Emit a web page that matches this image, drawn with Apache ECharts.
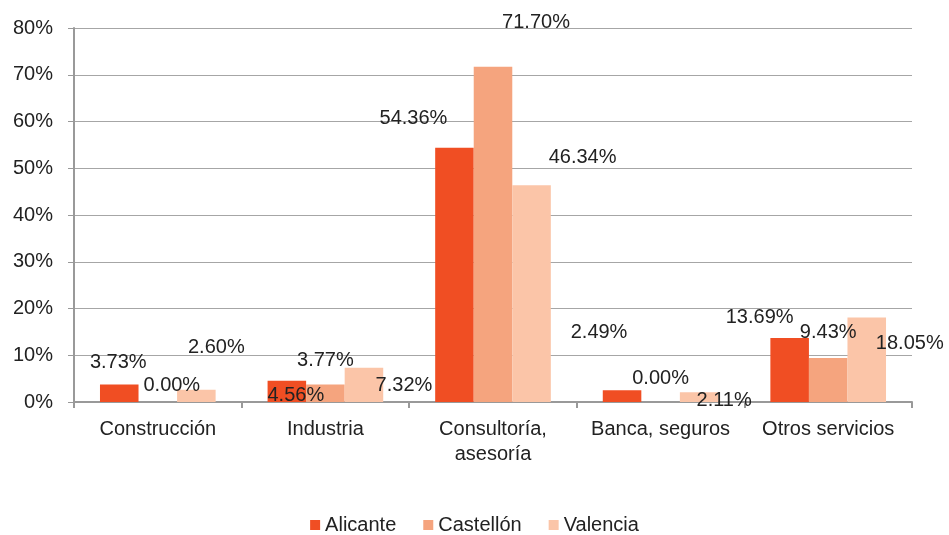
<!DOCTYPE html>
<html>
<head>
<meta charset="utf-8">
<script src="https://cdn.jsdelivr.net/npm/echarts@6/dist/echarts.min.js"></script>
<style>
  html, body { margin: 0; padding: 0; background: #fff; }
  #chart { width: 949px; height: 535px; }
</style>
</head>
<body>
<div id="chart"></div>
<script>
var categories = ['Construcción', 'Industria', 'Consultoría,\nasesoría', 'Banca, seguros', 'Otros servicios'];
var alicante  = [3.73, 4.56, 54.36, 2.49, 13.69];
var castellon = [0.00, 3.77, 71.70, 0.00, 9.43];
var valencia  = [2.60, 7.32, 46.34, 2.11, 18.05];

// label placement (px offsets from bar top centre), as in the original
var offAlicante  = [[-1, -22], [9, 15], [-41, -29], [-23, -58], [-30, -21]];
var offCastellon = [[14, -17], [0, -24], [43, -44], [0, -24], [0, -25]];
var offValencia  = [[20, -42], [40, 18], [51, -28], [25, 8], [43, 26]];

(function(){
    var mycharts = echarts.init(document.getElementById('chart'));
    var font = 'Liberation Sans, Arial, sans-serif';

    function build(vals, offs){
        return vals.map(function(v, i){
            return { value: v, label: { offset: offs[i] } };
        });
    }
    var baseLabel = {
        show: true,
        position: 'top',
        distance: 0,
        verticalAlign: 'middle',
        fontFamily: font,
        fontSize: 20,
        color: '#222',
        formatter: function(p){ return p.value.toFixed(2) + '%'; }
    };

    var option = {
        animation: false,
        textStyle: { fontFamily: font },
        grid: { left: 74, right: 37, top: 28, bottom: 133 },
        legend: {
            bottom: 0,
            padding: 0,
            left: 'center',
            itemWidth: 10,
            itemHeight: 10,
            itemGap: 27,
            icon: 'rect',
            textStyle: { fontSize: 20, color: '#222', fontFamily: font }
        },
        xAxis: {
            type: 'category',
            data: categories,
            axisLine: { lineStyle: { color: '#999', width: 2 } },
            axisTick: { show: true, length: 6, lineStyle: { color: '#999', width: 2 } },
            axisLabel: { fontSize: 20, color: '#222', margin: 15, lineHeight: 25, interval: 0 }
        },
        yAxis: {
            type: 'value',
            min: 0,
            max: 80,
            interval: 10,
            axisLine: { show: true, lineStyle: { color: '#999', width: 2 } },
            axisTick: { show: true, length: 6, lineStyle: { color: '#999' } },
            splitLine: { lineStyle: { color: '#a6a6a6', width: 1 } },
            axisLabel: { fontSize: 20, color: '#222', margin: 21, formatter: '{value}%' }
        },
        series: [
            { name: 'Alicante', type: 'bar', barGap: '0%', barCategoryGap: '31%',
              itemStyle: { color: '#f04e23' }, label: baseLabel, data: build(alicante, offAlicante) },
            { name: 'Castellón', type: 'bar', barGap: '0%', barCategoryGap: '31%',
              itemStyle: { color: '#f5a47e' }, label: baseLabel, data: build(castellon, offCastellon) },
            { name: 'Valencia', type: 'bar', barGap: '0%', barCategoryGap: '31%',
              itemStyle: { color: '#fbc5a8' }, label: baseLabel, data: build(valencia, offValencia) }
        ]
    };
    mycharts.setOption(option);
})();
</script>
</body>
</html>
